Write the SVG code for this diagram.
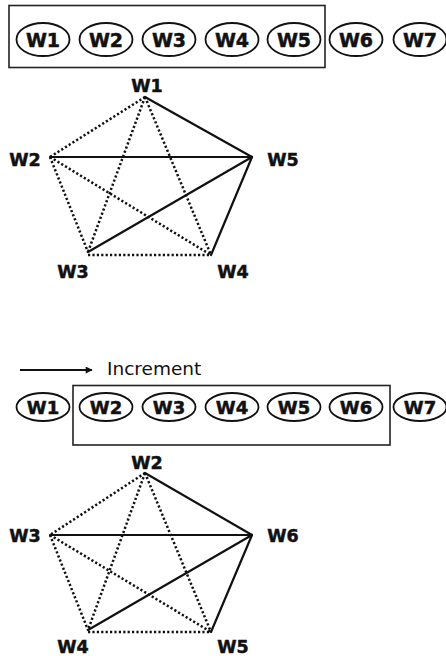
<svg xmlns="http://www.w3.org/2000/svg" width="446" height="656" viewBox="0 0 446 656">
  <style>
    .bg { fill: #ffffff; }
    .frame { fill: none; stroke: #222; stroke-width: 1.6; }
    .win ellipse { fill: #fff; stroke: #111; stroke-width: 1.8; }
    .wl { font-family: "DejaVu Sans", Verdana, sans-serif; font-weight: bold; fill: #111; stroke: #111; stroke-width: 0.5; text-anchor: middle; }
    .r1 { font-size: 19px; }
    .r2 { font-size: 18px; }
    .vl { font-family: "DejaVu Sans", Verdana, sans-serif; font-weight: bold; font-size: 17.5px; fill: #111; stroke: #111; stroke-width: 0.5; text-anchor: middle; }
    .solid { stroke: #111; stroke-width: 2.2; fill: none; stroke-linecap: round; }
    .dot { stroke: #111; stroke-width: 2.5; fill: none; stroke-dasharray: 2.2 2.2; }
    .cap { font-family: "DejaVu Sans", Tahoma, sans-serif; font-size: 18.5px; fill: #111; }
  </style>
  <defs>
    <marker id="head" viewBox="0 0 10 10" refX="9" refY="5" markerWidth="9" markerHeight="7" markerUnits="userSpaceOnUse" orient="auto">
      <path d="M0,0 L10,5 L0,10 z" fill="#111"/>
    </marker>
  </defs>
  <rect class="bg" x="0" y="0" width="446" height="656"/>

  <!-- window 1: first five words -->
  <g id="window-1">
    <rect class="frame" x="9" y="5.5" width="316" height="62"/>
  </g>
  <g class="win" id="row1">
    <g id="r1-w1"><ellipse cx="43" cy="39.5" rx="26.5" ry="16.5"/><text class="wl r1" x="43" y="47">W1</text></g>
    <g id="r1-w2"><ellipse cx="106" cy="39.5" rx="26.5" ry="16.5"/><text class="wl r1" x="106" y="47">W2</text></g>
    <g id="r1-w3"><ellipse cx="169" cy="39.5" rx="26.5" ry="16.5"/><text class="wl r1" x="169" y="47">W3</text></g>
    <g id="r1-w4"><ellipse cx="232" cy="39.5" rx="26.5" ry="16.5"/><text class="wl r1" x="232" y="47">W4</text></g>
    <g id="r1-w5"><ellipse cx="294" cy="39.5" rx="26.5" ry="16.5"/><text class="wl r1" x="294" y="47">W5</text></g>
    <g id="r1-w6"><ellipse cx="356" cy="39.5" rx="26.5" ry="16.5"/><text class="wl r1" x="356" y="47">W6</text></g>
    <g id="r1-w7"><ellipse cx="420" cy="39.5" rx="26.5" ry="16.5"/><text class="wl r1" x="420" y="47">W7</text></g>
  </g>

  <!-- graph 1 connectors -->
  <g id="edges-1">
    <line class="dot" x1="145" y1="97" x2="50" y2="157"/>
    <line class="dot" x1="145" y1="97" x2="88" y2="252"/>
    <line class="dot" x1="145" y1="97" x2="211" y2="255"/>
    <line class="dot" x1="50" y1="157" x2="88" y2="252"/>
    <line class="dot" x1="50" y1="157" x2="211" y2="255"/>
    <line class="dot" x1="88" y1="255" x2="211" y2="255"/>
    <line class="solid" x1="145" y1="97" x2="252" y2="157"/>
    <line class="solid" x1="50" y1="157" x2="252" y2="157"/>
    <line class="solid" x1="88" y1="252" x2="252" y2="157"/>
    <line class="solid" x1="211" y1="255" x2="252" y2="157"/>
  </g>
  <g id="g1-w1"><text class="vl" x="147" y="92">W1</text></g>
  <g id="g1-w2"><text class="vl" x="25" y="166">W2</text></g>
  <g id="g1-w5"><text class="vl" x="283" y="166">W5</text></g>
  <g id="g1-w3"><text class="vl" x="73" y="278">W3</text></g>
  <g id="g1-w4"><text class="vl" x="233" y="278">W4</text></g>

  <!-- increment legend -->
  <g id="legend">
    <line x1="20" y1="370" x2="92" y2="370" stroke="#111" stroke-width="1.8" marker-end="url(#head)"/>
    <text class="cap" x="107" y="375">Increment</text>
  </g>

  <!-- window 2: shifted by one word -->
  <g id="window-2">
    <rect class="frame" x="73" y="385.5" width="317" height="59.5"/>
  </g>
  <g class="win" id="row2">
    <g id="r2-w1"><ellipse cx="43" cy="407" rx="26.5" ry="14"/><text class="wl r2" x="43" y="413.5">W1</text></g>
    <g id="r2-w2"><ellipse cx="106" cy="407" rx="26.5" ry="14"/><text class="wl r2" x="106" y="413.5">W2</text></g>
    <g id="r2-w3"><ellipse cx="169" cy="407" rx="26.5" ry="14"/><text class="wl r2" x="169" y="413.5">W3</text></g>
    <g id="r2-w4"><ellipse cx="232" cy="407" rx="26.5" ry="14"/><text class="wl r2" x="232" y="413.5">W4</text></g>
    <g id="r2-w5"><ellipse cx="294" cy="407" rx="26.5" ry="14"/><text class="wl r2" x="294" y="413.5">W5</text></g>
    <g id="r2-w6"><ellipse cx="356" cy="407" rx="26.5" ry="14"/><text class="wl r2" x="356" y="413.5">W6</text></g>
    <g id="r2-w7"><ellipse cx="420" cy="407" rx="26.5" ry="14"/><text class="wl r2" x="420" y="413.5">W7</text></g>
  </g>

  <!-- graph 2 connectors -->
  <g id="edges-2" transform="translate(0,376)">
    <line class="dot" x1="145" y1="97" x2="50" y2="159"/>
    <line class="dot" x1="145" y1="97" x2="88" y2="254"/>
    <line class="dot" x1="145" y1="97" x2="211" y2="256"/>
    <line class="dot" x1="50" y1="159" x2="88" y2="254"/>
    <line class="dot" x1="50" y1="159" x2="211" y2="256"/>
    <line class="dot" x1="88" y1="256" x2="211" y2="256"/>
    <line class="solid" x1="145" y1="97" x2="252" y2="159"/>
    <line class="solid" x1="50" y1="159" x2="252" y2="159"/>
    <line class="solid" x1="88" y1="254" x2="252" y2="159"/>
    <line class="solid" x1="211" y1="256" x2="252" y2="159"/>
  </g>
  <g id="g2-w2"><text class="vl" x="147" y="469">W2</text></g>
  <g id="g2-w3"><text class="vl" x="25" y="542">W3</text></g>
  <g id="g2-w6"><text class="vl" x="283" y="542">W6</text></g>
  <g id="g2-w4"><text class="vl" x="73" y="653">W4</text></g>
  <g id="g2-w5"><text class="vl" x="233" y="653">W5</text></g>
</svg>
